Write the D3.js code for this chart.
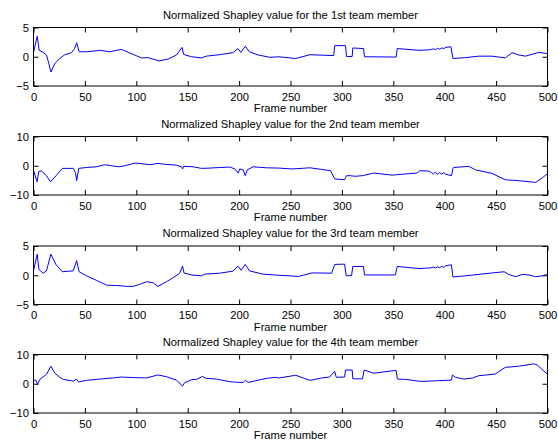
<!DOCTYPE html>
<html><head><meta charset="utf-8">
<script src="https://cdn.jsdelivr.net/npm/d3@7"></script>
<style>
html,body{margin:0;padding:0;background:#fff;}
svg{display:block;font-family:"Liberation Sans",Arial,Helvetica,sans-serif;}
</style></head>
<body><svg id="chart" width="558" height="448"></svg>
<script>
// ---- data: [frame, normalized Shapley value] ----
const titles = [
  "Normalized Shapley value for the 1st team member",
  "Normalized Shapley value for the 2nd team member",
  "Normalized Shapley value for the 3rd team member",
  "Normalized Shapley value for the 4th team member"
];
const xLabel = "Frame number";
const xTicks = [0,50,100,150,200,250,300,350,400,450,500];
const yTicksSmall = [-5,0,5];
const yTicksLarge = [-10,0,10];

const member1 = [[0,0.7],[3.6,3.5],[5.5,1.1],[9.4,0.75],[12.6,0.3],[15,-1.2],[17,-2.6],[19,-1.8],[21,-1.1],[25.6,-0.3],[30,0.3],[37,0.7],[40,1.4],[42,2.4],[44.4,0.85],[51.5,0.85],[64.5,1.1],[74,0.85],[85.6,1.25],[97,0.4],[105,-0.2],[111.5,-0.15],[122,-0.7],[131,-0.4],[139,0.3],[144.6,1.6],[146,0.4],[153.7,0],[163.4,-0.2],[168,0.1],[181,0.35],[194,0.7],[198.8,1.4],[201.7,0.75],[206,1.8],[210,0.85],[218.5,0.3],[230,-0.1],[238.6,0],[255,-0.3],[269,0.35],[292,0.2],[293,1.9],[303.5,1.9],[304.5,0.05],[310,0.05],[310.6,1.5],[321,1.4],[322,0],[352.8,-0.05],[353.8,1.4],[375,1.1],[386,1.2],[389,1.35],[391,1.2],[393,1.45],[395,1.3],[397,1.5],[399,1.4],[401,1.6],[406,1.7],[408,-0.3],[420,-0.15],[433,0.1],[446,0.1],[459,-0.2],[465.6,0.7],[472,0.3],[478.6,0.1],[491.6,0.75],[499.7,0.55]];

const member2 = [[0,-1.5],[3.5,-5.5],[5,-2],[7.8,-1.8],[12.6,-3.4],[16.5,-5.5],[22,-3.4],[28,-0.9],[38.6,-0.9],[40.8,-2.3],[42,-5.1],[44,-0.9],[51.5,-0.6],[61,-0.35],[69.4,0.35],[75.9,0],[83,-0.35],[88.8,0],[98.6,0.9],[103,0.8],[113,0.35],[121,0.8],[129,0.45],[139,0.2],[144,-0.35],[145,-1.1],[146,-0.2],[155.3,-0.35],[163.4,-0.9],[171.5,-0.8],[181,-0.6],[191,-0.45],[196,-1.1],[199,-2.5],[200.7,-1.1],[204,-1.4],[206,-3.4],[208,-1.4],[213.7,-0.35],[226.6,-0.7],[238.6,-0.8],[251.6,-1.1],[269,-0.7],[280,-1.25],[289,-1.7],[293,-4.5],[302.6,-4.8],[304.5,-3.4],[308,-3.4],[313,-3.6],[319.8,-3.4],[331,-2.5],[349,-3.2],[362,-2.8],[373,-2.5],[376,-1.7],[384,-1.8],[387,-2.3],[389,-2.8],[391,-2.2],[393,-2.9],[395,-2.3],[397,-2.9],[399,-2.4],[401,-2.9],[406.6,-3.4],[408,-0.9],[408.9,-0.6],[423.5,-0.2],[430,-1.4],[446,-2.6],[459,-4.8],[472,-5.1],[488.6,-5.7],[495,-4.1],[499.7,-2.8]];

const member3 = [[0,0.75],[3.6,3.6],[5.2,1],[9.4,0.35],[12.6,0.75],[16.9,3.6],[19,2.8],[22,1.8],[28,0.6],[38.6,0.75],[42,2.5],[44.4,0.6],[51.5,-0.1],[61,-0.85],[71,-1.7],[80.7,-1.75],[90.5,-1.9],[97,-1.9],[103.4,-1.55],[110,-1.1],[116.4,-1.3],[121,-1.9],[129.4,-1.1],[135.9,-0.4],[142,0.3],[145,1.55],[146.5,0.35],[154,0.05],[163.4,-0.1],[166.7,0.2],[181,0.35],[194,0.7],[198.8,1.55],[202,0.85],[206,1.85],[210,0.75],[223,0.2],[238.6,0],[258,-0.2],[271,0.4],[290,0.35],[293,1.85],[302.6,1.9],[304.2,-0.1],[309.4,-0.05],[310.6,1.5],[321,1.5],[322,0.05],[352,0.05],[353.8,1.5],[375,1.15],[386,1.25],[389,1.4],[391,1.25],[393,1.45],[395,1.3],[397,1.5],[399,1.35],[401,1.6],[406.5,1.8],[408,-0.3],[420,-0.1],[449,0.45],[458,0.6],[462,0.15],[469,-0.25],[475.4,0.15],[482,0.05],[488.4,-0.25],[495,-0.1],[500,0.15]];

const member4 = [[0,1.15],[2.3,1.25],[3.9,-0.2],[6.2,1.5],[12.6,3.2],[16.9,6],[20.8,3.6],[25.6,2.2],[29,1.5],[38.6,0.9],[41.8,1.6],[43.8,0.6],[51.5,1.15],[64.5,1.6],[77.5,2],[85.6,2.3],[97,2.1],[110,2],[121,3],[129.4,2.4],[139,1.25],[145,-0.8],[147,0.35],[154,1.4],[158.6,1.5],[164.4,2.5],[168,1.85],[178,1.6],[191,0.7],[200.7,0.45],[204,0.45],[206,1.15],[208.8,0.45],[226.6,1.85],[236,2.2],[238.6,1.95],[255,2.9],[269,1.15],[280,1.95],[288,2.3],[293,4.25],[294.5,2.2],[302.6,2.3],[303.5,4.7],[310,4.7],[310.6,1.7],[320,1.7],[321.7,4.7],[331,3.6],[350.5,4.5],[352.8,4.5],[354,1.6],[362,1.5],[376.4,0.8],[391,1.0],[406.6,1.25],[407.5,3],[410.5,2.2],[418.6,1.6],[427,1.95],[433,2.75],[449,3.3],[459,5.6],[472,6],[487,6.8],[490,6.4],[500,3.2]];

const seriesList = [member1, member2, member3, member4];
const yTickSets = [yTicksSmall, yTicksLarge, yTicksSmall, yTicksLarge];

// ---- layout ----
const svg = d3.select("#chart");
const left = 33.5, right = 547.5;
const tops = [27.5, 136.5, 246, 354.5];
const ph = 58.5;
const tickLen = 5;
const fontSize = 11.2;

const fmt = v => v < 0 ? "\u2212" + Math.abs(v) : String(v);

seriesList.forEach((data, i) => {
  const top = tops[i], bottom = top + ph;
  const yt = yTickSets[i];
  const x = d3.scaleLinear().domain([0, 500]).range([left, right]);
  const y = d3.scaleLinear().domain([yt[0], yt[2]]).range([bottom, top]);
  const g = svg.append("g");

  g.append("path").datum(data)
    .attr("fill", "none").attr("stroke", "#0000ff").attr("stroke-width", 1)
    .attr("stroke-linejoin", "round")
    .attr("d", d3.line().x(d => x(d[0])).y(d => y(d[1])));

  const xb = d3.axisBottom(x).tickValues(xTicks).tickSizeInner(-tickLen).tickSizeOuter(0).tickFormat(d => d);
  const xtop = d3.axisTop(x).tickValues(xTicks).tickSizeInner(-tickLen).tickSizeOuter(0).tickFormat("");
  const yl = d3.axisLeft(y).tickValues(yt).tickSizeInner(-tickLen).tickSizeOuter(0).tickFormat(fmt);
  const yr = d3.axisRight(y).tickValues(yt).tickSizeInner(-tickLen).tickSizeOuter(0).tickFormat("");

  const gx = g.append("g").attr("transform", `translate(0,${bottom})`).call(xb);
  gx.selectAll("text").attr("dy", null).attr("y", 14.5).attr("font-size", fontSize).attr("font-family", null).attr("fill", "#000");
  g.append("g").attr("transform", `translate(0,${top})`).call(xtop);
  const gy = g.append("g").attr("transform", `translate(${left},0)`).call(yl);
  gy.selectAll("text").attr("x", -4.5).attr("dy", "0.35em").attr("font-size", fontSize).attr("font-family", null).attr("fill", "#000");
  g.append("g").attr("transform", `translate(${right},0)`).call(yr);

  g.selectAll(".domain").remove();
  g.selectAll(".tick line").attr("stroke", "#000").attr("stroke-width", 1);

  g.append("rect").attr("x", left).attr("y", top).attr("width", right - left).attr("height", ph)
    .attr("fill", "none").attr("stroke", "#000").attr("stroke-width", 1);

  g.append("text").attr("x", (left + right) / 2).attr("y", top - 9)
    .attr("text-anchor", "middle").attr("font-size", fontSize).attr("fill", "#000").text(titles[i]);
  g.append("text").attr("x", (left + right) / 2).attr("y", bottom + 26)
    .attr("text-anchor", "middle").attr("font-size", fontSize).attr("fill", "#000").text(xLabel);
});
</script></body></html>
